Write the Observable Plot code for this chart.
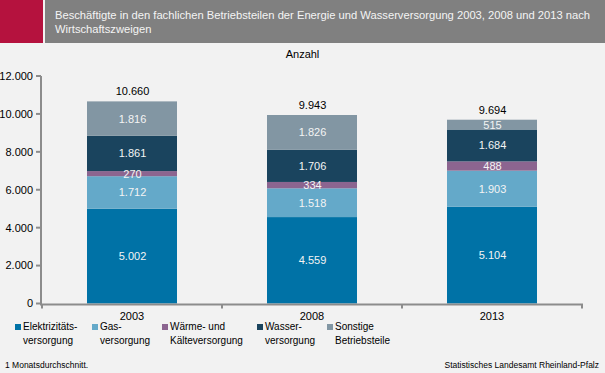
<!DOCTYPE html>
<html>
<head>
<meta charset="utf-8">
<script src="https://cdn.jsdelivr.net/npm/d3@7"></script>
<script src="https://cdn.jsdelivr.net/npm/@observablehq/plot@0.6"></script>
<style>
  html, body { margin: 0; padding: 0; background: #f2f2f2; }
  #wrap { position: relative; width: 605px; height: 373px; overflow: hidden; background: #f2f2f2; font-family: "Liberation Sans", Arial, sans-serif; }
  #red { position: absolute; left: 0; top: 0; width: 43px; height: 43px; background: #b5123e; }
  #grey { position: absolute; left: 45px; top: 0; width: 560px; height: 43px; background: #808080; }
  #title { position: absolute; left: 55px; top: 8px; width: 548px; color: #f4f4f4; font-size: 11.2px; line-height: 14px; }
  #unit { position: absolute; left: 0; width: 605px; top: 48px; text-align: center; font-size: 11px; color: #000; }
  #chart { position: absolute; left: 0; top: 66px; }
  #legend { position: absolute; left: 0; top: 320px; width: 605px; height: 30px; font-size: 10px; color: #000; }
  .item { position: absolute; top: 0; line-height: 14px; }
  .sw { position: absolute; width: 6px; height: 6px; top: 4px; }
  .lt { position: absolute; white-space: nowrap; }
  #note { position: absolute; left: 5px; top: 360px; font-size: 8.5px; color: #000; }
  #source { position: absolute; right: 6px; top: 360px; font-size: 8.5px; color: #000; }
</style>
</head>
<body>
<div id="wrap">
  <div id="red"></div>
  <div id="grey"></div>
  <div id="title"></div>
  <div id="unit"></div>
  <div id="chart"></div>
  <div id="legend"></div>
  <div id="note"></div>
  <div id="source"></div>
</div>
<script>
// ---- data ----
const title = "Beschäftigte in den fachlichen Betriebsteilen der Energie und Wasserversorgung 2003, 2008 und 2013 nach Wirtschaftszweigen";
const unitLabel = "Anzahl";
const noteText = "1 Monatsdurchschnitt.";
const sourceText = "Statistisches Landesamt Rheinland-Pfalz";
const years = ["2003", "2008", "2013"];
const seriesNames = ["Elektrizitäts-\nversorgung", "Gas-\nversorgung", "Wärme- und\nKälteversorgung", "Wasser-\nversorgung", "Sonstige\nBetriebsteile"];
const seriesColors = ["#0072a6", "#64a9c9", "#8c6590", "#1a445e", "#8296a3"];
const elektrizitaet = [5002, 4559, 5104];
const gas = [1712, 1518, 1903];
const waerme = [270, 334, 488];
const wasser = [1861, 1706, 1684];
const sonstige = [1816, 1826, 515];
const totals = [10660, 9943, 9694];
const yTicks = [0, 2000, 4000, 6000, 8000, 10000, 12000];

// ---- build ----
const seriesValues = [elektrizitaet, gas, waerme, wasser, sonstige];
const rows = [];
seriesNames.forEach((s, i) => years.forEach((y, j) => rows.push({year: y, series: s, value: seriesValues[i][j]})));
const totalRows = years.map((y, j) => ({year: y, total: totals[j]}));

const de = d3.formatLocale({decimal: ",", thousands: ".", grouping: [3], currency: ["", " €"]});
const fmt = de.format(",d");

document.getElementById("title").textContent = title;
document.getElementById("unit").textContent = unitLabel;
document.getElementById("note").textContent = noteText;
document.getElementById("source").textContent = sourceText;

const font = "Liberation Sans, Arial, sans-serif";
const axisColor = "#8c8c8c";

function axes(index, scales, values, dimensions) {
  const g = d3.create("svg:g");
  const x = scales.x, y = scales.y;
  const step = x.step ? x.step() : (x.bandwidth() * 2);
  const x0 = dimensions.marginLeft;
  const x1 = dimensions.width - dimensions.marginRight;
  const y0 = y(0), yTop = y(12000);
  g.append("line").attr("x1", x0).attr("x2", x0).attr("y1", yTop).attr("y2", y0 + 1)
    .attr("stroke", axisColor).attr("stroke-width", 2);
  yTicks.forEach(t => {
    g.append("line").attr("x1", x0 - 5).attr("x2", x0).attr("y1", y(t)).attr("y2", y(t))
      .attr("stroke", axisColor).attr("stroke-width", 2);
    g.append("text").attr("x", x0 - 8).attr("y", y(t)).attr("dy", "0.35em")
      .attr("text-anchor", "end").attr("font-size", 11).attr("font-family", font).attr("fill", "#000").text(fmt(t));
  });
  g.append("line").attr("x1", x0 - 1).attr("x2", x1).attr("y1", y0 + 1).attr("y2", y0 + 1)
    .attr("stroke", axisColor).attr("stroke-width", 2);
  const bounds = years.map(d => x(d) + x.bandwidth() / 2 - step / 2).concat([x(years[years.length - 1]) + x.bandwidth() / 2 + step / 2]);
  bounds.forEach(b => {
    g.append("line").attr("x1", b).attr("x2", b).attr("y1", y0 + 1).attr("y2", y0 + 5)
      .attr("stroke", axisColor).attr("stroke-width", 2);
  });
  years.forEach(d => {
    g.append("text").attr("x", x(d) + x.bandwidth() / 2).attr("y", y0 + 13).attr("dy", "0.35em")
      .attr("text-anchor", "middle").attr("font-size", 11).attr("font-family", font).attr("fill", "#000").text(d);
  });
  return g.node();
}

const chart = Plot.plot({
  width: 605,
  height: 256,
  marginLeft: 41,
  marginRight: 22,
  marginTop: 10,
  marginBottom: 18.5,
  style: {background: "transparent", fontFamily: font},
  x: {domain: years, paddingInner: 0.5, paddingOuter: 0.25, axis: null},
  y: {domain: [0, 12000], axis: null},
  color: {domain: seriesNames, range: seriesColors},
  marks: [
    Plot.barY(rows, {x: "year", y: "value", fill: "series", order: null}),
    Plot.text(rows, Plot.stackY({x: "year", y: "value", z: "series", order: null, text: d => fmt(d.value), fill: "#f4f4f4", fontSize: 11, fontFamily: font})),
    Plot.text(totalRows, {x: "year", y: "total", text: d => fmt(d.total), dy: -10, fill: "#000", fontSize: 11, fontFamily: font}),
    axes
  ]
});
document.getElementById("chart").appendChild(chart);

// legend
const legendX = [15, 92, 162, 257, 327];
const legend = document.getElementById("legend");
seriesNames.forEach((s, i) => {
  const it = document.createElement("div");
  it.className = "item";
  it.style.left = legendX[i] + "px";
  const sw = document.createElement("div");
  sw.className = "sw";
  sw.style.left = "0px";
  sw.style.background = seriesColors[i];
  const lt = document.createElement("div");
  lt.className = "lt";
  lt.style.left = "8px";
  lt.innerHTML = s.split("\n").join("<br>");
  it.appendChild(sw);
  it.appendChild(lt);
  legend.appendChild(it);
});
</script>
</body>
</html>
